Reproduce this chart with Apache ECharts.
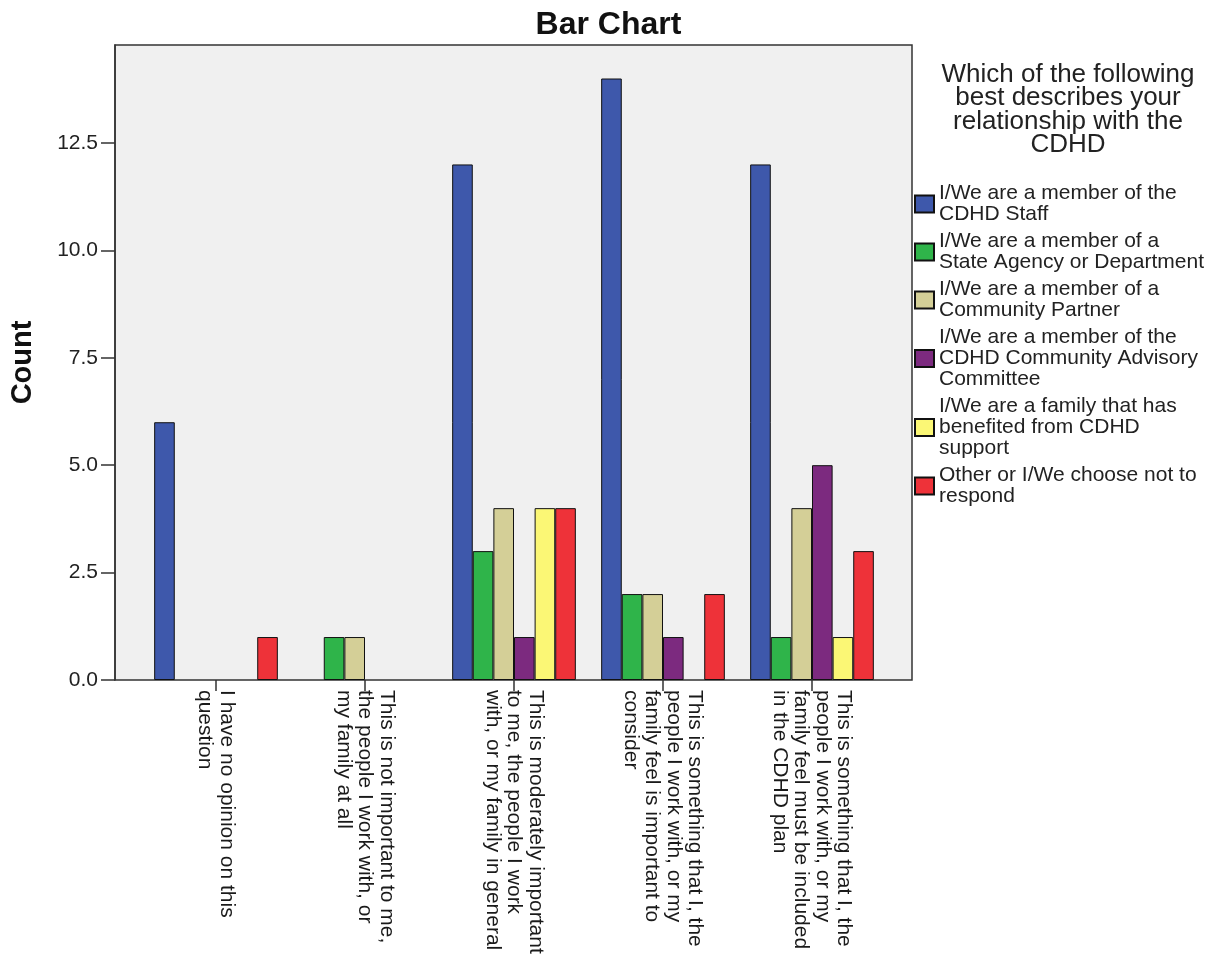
<!DOCTYPE html>
<html>
<head>
<meta charset="utf-8">
<script src="https://cdn.jsdelivr.net/npm/echarts@6/dist/echarts.min.js"></script>
<style>
	html, body { margin: 0; padding: 0; background: #fff; }
	#main { width: 1223px; height: 960px; }
</style>
</head>
<body>
<div id="main"></div>
<script>
var categories = [
	'I have no opinion on this\nquestion',
	'This is not important to me,\nthe people I work with, or\nmy family at all',
	'This is moderately important\nto me, the people I work\nwith, or my family in general',
	'This is something that I, the\npeople I work with, or my\nfamily feel is important to\nconsider',
	'This is something that I, the\npeople I work with, or my\nfamily feel must be included\nin the CDHD plan'
];
var groups = [
	'I/We are a member of the\nCDHD Staff',
	'I/We are a member of a\nState Agency or Department',
	'I/We are a member of a\nCommunity Partner',
	'I/We are a member of the\nCDHD Community Advisory\nCommittee',
	'I/We are a family that has\nbenefited from CDHD\nsupport',
	'Other or I/We choose not to\nrespond'
];
var staff     = [6, 0, 12, 14, 12];
var agency    = [0, 1, 3, 2, 1];
var partner   = [0, 1, 4, 2, 4];
var advisory  = [0, 0, 1, 1, 5];
var family    = [0, 0, 4, 0, 1];
var other     = [1, 0, 4, 2, 3];
var yTicks = [0, 2.5, 5, 7.5, 10, 12.5];
var yMax = 14.78;

var colors = ['#3e58ab', '#2fb44a', '#d4cf97', '#7c2a7f', '#fbf775', '#ee3239'];
var values = [staff, agency, partner, advisory, family, other];

var chart = echarts.init(document.getElementById('main'));

var series = groups.map(function(name, i) {
	return {
		name: name,
		type: 'bar',
		xAxisIndex: 1,
		yAxisIndex: 1,
		barGap: '0%',
		barCategoryGap: '17%',
		itemStyle: { color: colors[i], borderColor: '#111', borderWidth: 1 },
		// empty counts get no bar at all
		data: values[i].map(function(v) { return v === 0 ? null : v; })
	};
});

var option = {
	animation: false,
	textStyle: { fontFamily: 'Liberation Sans, Arial, sans-serif' },
	title: [{
		text: 'Bar Chart',
		left: 603.5,
		top: 4,
		textAlign: 'center',
		textStyle: { fontSize: 32, fontWeight: 'bold', color: '#111' }
	}, {
		text: 'Which of the following\nbest describes your\nrelationship with the\nCDHD',
		left: 1063,
		top: 58,
		textAlign: 'center',
		textStyle: { fontSize: 26, fontWeight: 'normal', lineHeight: 23.5, color: '#222' }
	}],
	legend: {
		orient: 'vertical',
		left: 914,
		top: 183,
		padding: 0,
		itemWidth: 19,
		itemHeight: 17,
		itemGap: 6,
		icon: 'rect',
		data: groups,
		textStyle: { fontSize: 21, lineHeight: 21, color: '#222' }
	},
	grid: [{
		left: 115, right: 311, top: 45, bottom: 280,
		show: true,
		backgroundColor: '#f0f0f0',
		borderColor: '#333',
		borderWidth: 1.5
	}, {
		left: 141.5, right: 336.5, top: 45, bottom: 280
	}],
	xAxis: [{
		gridIndex: 0, type: 'value', show: false, min: 0, max: 1
	}, {
		gridIndex: 1,
		type: 'category',
		data: categories,
		axisLine: { show: false },
		axisTick: { show: true, alignWithLabel: true, length: 11, lineStyle: { color: '#333', width: 1.5 } },
		axisLabel: { rotate: -90, margin: 10, fontSize: 21, lineHeight: 21.5, color: '#1a1a1a', interval: 0 }
	}],
	yAxis: [{
		gridIndex: 0,
		type: 'value',
		min: 0,
		max: yMax,
		name: 'Count',
		nameLocation: 'middle',
		nameRotate: 90,
		nameGap: 78,
		nameTextStyle: { fontSize: 29, fontWeight: 'bold', color: '#111' },
		splitLine: { show: false },
		axisLine: { show: true, lineStyle: { color: '#333', width: 1.5 } },
		axisTick: { show: true, length: 14, customValues: yTicks, lineStyle: { color: '#333', width: 1.5 } },
		axisLabel: {
			customValues: yTicks,
			fontSize: 21,
			color: '#222',
			margin: 17,
			formatter: function(v) { return v.toFixed(1); }
		}
	}, {
		gridIndex: 1, type: 'value', show: false, min: 0, max: yMax
	}],
	series: series
};

chart.setOption(option);
</script>
</body>
</html>
